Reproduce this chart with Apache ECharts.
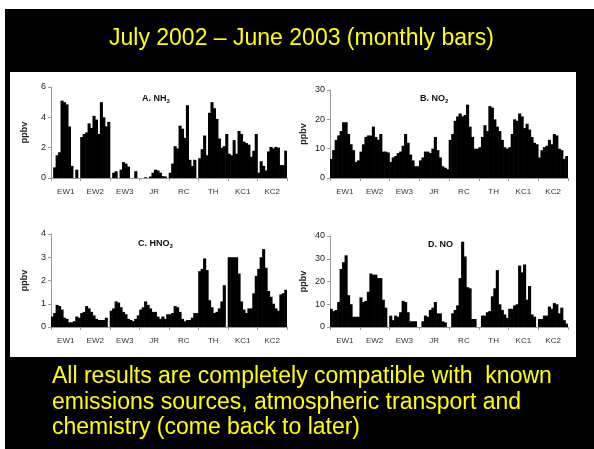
<!DOCTYPE html>
<html><head><meta charset="utf-8">
<script src="https://cdn.jsdelivr.net/npm/echarts@6/dist/echarts.min.js"></script>
<style>html,body{margin:0;padding:0;background:#fff}#c{width:594px;height:449px}</style>
</head><body><div id="c"></div>
<script>
// ---------------- data ----------------
const sites = ['EW1', 'EW2', 'EW3', 'JR', 'RC', 'TH', 'KC1', 'KC2'];
const months = ['Jul', 'Aug', 'Sep', 'Oct', 'Nov', 'Dec', 'Jan', 'Feb', 'Mar', 'Apr', 'May', 'Jun'];

// A. NH3 (ppbv), one row per site, Jul 2002 .. Jun 2003
const nh3 = [
  [null, 0.7, 1.5, 1.7, 5.1, 5.0, 4.85, 3.4, 0.8, null, 0.55, null],
  [2.7, 2.9, 3.0, 3.6, 3.3, 4.1, 3.85, 2.9, 5.0, 4.0, 3.4, 3.7],
  [null, 0.35, 0.45, null, 0.55, 1.05, 0.95, 0.75, null, null, 0.45, null],
  [null, null, 0.05, null, 0.1, 0.35, 0.55, 0.5, 0.35, 0.12, 0.1, null],
  [0.35, 0.95, 2.1, 1.95, 3.45, 3.25, 2.65, 4.8, 1.2, 0.8, 1.2, null],
  [1.3, 1.9, 2.8, 1.5, 4.3, 5.0, 4.6, 3.9, 2.6, 2.0, 2.1, 2.9],
  [1.6, 1.5, 2.5, 1.6, 3.1, 2.9, 2.4, 2.3, 2.2, 1.4, 1.8, 2.9],
  [0.35, 1.1, 0.8, 0.5, 1.75, 2.05, 1.95, 2.05, 2.0, 0.85, 0.85, 1.8]
];
// B. NO2 (ppbv)
const no2 = [
  [6.5, 9.5, 13, 14.5, 16, 19, 19, 15, 11.5, 9.5, 5.5, 6],
  [9, 11.5, 14, 14.5, 14.5, 17.5, 14, 13, 15, 9, 9, 8.7],
  [5.5, 7, 7.5, 8.5, 9, 11, 15, 12, 8, 6, 4, 4],
  [6, 7, 9, 9, 8.5, 10, 14, 9.5, 7, 4, 3.5, 3],
  [13, 15, 19.5, 21, 22, 21, 21.5, 25, 17.5, 14, 10, 10],
  [10.5, 14, 18, 16, 24.5, 24, 20, 17.5, 16, 13, 10.5, 10],
  [10.5, 15, 20, 19.5, 22, 21, 17, 18.5, 16.5, 14, 12, 11.5],
  [7, 9.5, 10.5, 11, 13, 11.5, 15, 14.5, 10, 9.5, 6.5, 7.5]
];
// C. HNO3 (ppbv)
const hno3 = [
  [0.45, 0.6, 0.95, 0.9, 0.75, 0.4, 0.35, 0.2, 0.2, 0.25, 0.45, 0.4],
  [0.6, 0.65, 0.9, 0.8, 0.65, 0.5, 0.35, 0.3, 0.3, 0.3, 0.4, null],
  [0.7, 0.8, 1.1, 1.05, 0.85, 0.65, 0.55, 0.35, 0.3, 0.25, 0.35, 0.5],
  [0.75, 0.85, 1.1, 0.95, 0.8, 0.65, 0.65, 0.45, 0.35, 0.45, 0.35, 0.55],
  [0.55, 0.6, 0.9, 0.85, 0.65, 0.35, 0.25, 0.3, 0.3, 0.4, 0.6, 0.6],
  [2.4, 2.5, 2.95, 2.45, 1.15, 0.85, 0.6, 0.65, 0.8, 1.1, 1.8, null],
  [3.0, 3.0, 3.0, 3.0, 2.3, 1.1, 0.75, 0.6, 0.8, 0.8, 1.45, 2.2],
  [2.5, 3.0, 3.35, 2.55, 1.55, 1.3, 1.0, 0.8, 0.7, 1.4, 1.45, 1.6]
];
// D. NO (ppbv)
const no = [
  [8, 7, 7.5, 11, 25.5, 28.5, 31.5, 14, 10, 4.5, 4.5, 4.5],
  [13, 11, 11.5, 15.5, 23.5, 23, 23, 21.5, 21.5, 12, 8.5, null],
  [5, 3, 5, 4.5, 6.5, 11.5, 11, 6.5, 2.5, 2.5, 2.5, null],
  [null, 2.5, 5, 4.5, 7.5, 8.5, 11, 6, 6, 2.5, 2, null],
  [null, 6, 7.5, 9.5, 21.5, 37.5, 31, 17.5, 17, 3.5, 3.5, null],
  [null, 5, 5, 6.5, 7, 13.5, 17, 25, 10, 7.5, 5.5, 4],
  [8, 8, 9.5, 10, 27, 24, 27.5, 12, 18, 5.5, 4.5, null],
  [3.5, 3.5, 5, 5, 9, 8, 10.5, 10, 6, 8.5, 3, 1.5]
];

const nh3Ticks = [0, 2, 4, 6];
const no2Ticks = [0, 10, 20, 30];
const hno3Ticks = [0, 1, 2, 3, 4];
const noTicks = [0, 10, 20, 30, 40];

const titleText = 'July 2002 \u2013 June 2003 (monthly bars)';
const noteLines = [
  'All results are completely compatible with  known',
  'emissions sources, atmospheric transport and',
  'chemistry (come back to later)'
];

// ---------------- chart ----------------
const FONT = '"Liberation Sans", Arial, sans-serif';
const monthCats = [];
sites.forEach(s => months.forEach(m => monthCats.push(s + ' ' + m)));

const panels = [
  { data: nh3, ticks: nh3Ticks, main: 'A. NH', sub: '3', grid: { left: 51, top: 87, width: 236, height: 91 }, tpos: { left: 142, top: 93 } },
  { data: no2, ticks: no2Ticks, main: 'B. NO', sub: '2', grid: { left: 330, top: 90, width: 238, height: 88 }, tpos: { left: 420, top: 93 } },
  { data: hno3, ticks: hno3Ticks, main: 'C. HNO', sub: '3', grid: { left: 51, top: 234, width: 236, height: 93 }, tpos: { left: 138, top: 238 } },
  { data: no, ticks: noTicks, main: 'D. NO', sub: '', grid: { left: 330, top: 236, width: 238, height: 91 }, tpos: { left: 428, top: 240 } }
];

const grids = [], xAxes = [], yAxes = [], series = [], titles = [];
titles.push({
  text: titleText, left: 109, top: 27, padding: 0,
  textStyle: { color: '#ffff00', fontSize: 23, fontWeight: 'normal', fontFamily: FONT }
});
panels.forEach((p, i) => {
  grids.push(p.grid);
  xAxes.push({
    type: 'category', gridIndex: i, data: monthCats, show: false, boundaryGap: true
  });
  xAxes.push({
    type: 'category', gridIndex: i, data: sites, position: 'bottom', boundaryGap: true,
    axisLine: { show: true, lineStyle: { color: '#9a9a9a', width: 1 } },
    axisTick: { show: true, length: 3, lineStyle: { color: '#9a9a9a' } },
    axisLabel: { fontSize: 8, color: '#333', margin: 10, fontFamily: FONT, interval: 0 },
    splitLine: { show: false }
  });
  yAxes.push({
    type: 'value', gridIndex: i,
    min: p.ticks[0], max: p.ticks[p.ticks.length - 1], interval: p.ticks[1] - p.ticks[0],
    name: 'ppbv', nameLocation: 'middle', nameGap: 22, nameRotate: 90,
    nameTextStyle: { fontSize: 9, fontWeight: 'bold', color: '#222', fontFamily: FONT },
    axisLine: { show: true, lineStyle: { color: '#9a9a9a', width: 1 } },
    axisTick: { show: true, length: 3, lineStyle: { color: '#9a9a9a' } },
    axisLabel: { fontSize: 9, color: '#222', margin: 5, fontFamily: FONT },
    splitLine: { show: false }
  });
  series.push({
    type: 'bar', xAxisIndex: i * 2, yAxisIndex: i,
    data: [].concat(...p.data),
    barWidth: '125%',
    itemStyle: { color: '#000' },
    silent: true, animation: false
  });
  titles.push({
    text: p.sub ? '{a|' + p.main + '}{b|' + p.sub + '}' : '{a|' + p.main + '}',
    left: p.tpos.left, top: p.tpos.top, padding: 0,
    textStyle: {
      rich: {
        a: { fontSize: 9, fontWeight: 'bold', color: '#111', fontFamily: FONT },
        b: { fontSize: 6, fontWeight: 'bold', color: '#111', fontFamily: FONT, padding: [5, 0, 0, 0] }
      }
    }
  });
});

const graphics = [
  { type: 'rect', z: -20, shape: { x: 5, y: 9, width: 589, height: 440 }, style: { fill: '#000' }, silent: true },
  { type: 'rect', z: -19, shape: { x: 10, y: 72, width: 566, height: 285 }, style: { fill: '#fff' }, silent: true }
];
noteLines.forEach((t, k) => {
  graphics.push({
    type: 'text', z: 10, x: 52, y: 377 + k * 25.5,
    style: { text: t, fill: '#ffff00', font: '23px ' + FONT, verticalAlign: 'middle', align: 'left' },
    silent: true
  });
});

const chart = echarts.init(document.getElementById('c'), null, { renderer: 'canvas' });
chart.setOption({
  animation: false,
  backgroundColor: '#fff',
  title: titles,
  grid: grids,
  xAxis: xAxes,
  yAxis: yAxes,
  series: series,
  graphic: { elements: graphics }
});
</script>
</body></html>
